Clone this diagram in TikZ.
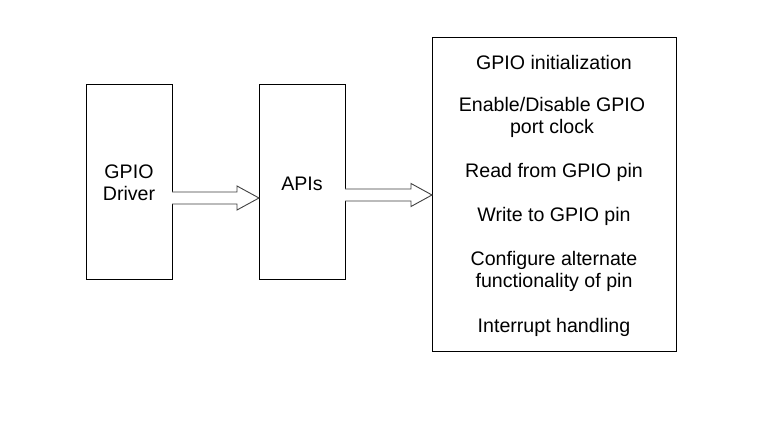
\documentclass[tikz,border=0pt]{standalone}
\usepackage{fontspec}
\setmainfont{Liberation Sans}
\usetikzlibrary{calc}
\begin{document}
\begin{tikzpicture}[x=1pt,y=1pt,
  blk/.style={draw=black,line width=0.9pt},
  lbl/.style={font=\fontsize{19.6}{22}\selectfont,align=center,inner sep=0pt},
  fatarrow/.style={draw=black!75,line width=0.9pt,fill=white}]
\useasboundingbox (0,0) rectangle (768,423);
\fill[white] (0,0) rectangle (768,423);
% boxes (y = 423 - pixel y)
\draw[blk] (86,144) rectangle (172,339);
\coordinate (b1e) at (172,225);
\draw[blk] (259,144) rectangle (345,339);
\coordinate (b2w) at (259,225);
\coordinate (b2e) at (345,228);
\draw[blk] (432,72) rectangle (676,386);
\coordinate (b3w) at (432,228);
% labels
\node[lbl] (t1) at (129,240) {GPIO\\Driver};
\node[lbl] (t2) at (302,239.5) {APIs};
\node[lbl] (l1) at (554,361) {GPIO initialization};
\node[lbl] (l2) at (552,306) {Enable/Disable GPIO\\port clock};
\node[lbl] (l3) at (554,251) {Read from GPIO pin};
\node[lbl] (l4) at (554,207) {Write to GPIO pin};
\node[lbl] (l5) at (554,152) {Configure alternate\\functionality of pin};
\node[lbl] (l6) at (554,96) {Interrupt handling};
% block arrows
\draw[fatarrow] ($(b1e)+(0,6)$) -- ($(b2w)+(-22,6)$) -- ($(b2w)+(-22,12)$) -- (b2w)
  -- ($(b2w)+(-22,-12)$) -- ($(b2w)+(-22,-6)$) -- ($(b1e)+(0,-6)$);
\draw[fatarrow] ($(b2e)+(0,6)$) -- ($(b3w)+(-21,6)$) -- ($(b3w)+(-21,11.5)$) -- (b3w)
  -- ($(b3w)+(-21,-11.5)$) -- ($(b3w)+(-21,-6)$) -- ($(b2e)+(0,-6)$);
\end{tikzpicture}
\end{document}
